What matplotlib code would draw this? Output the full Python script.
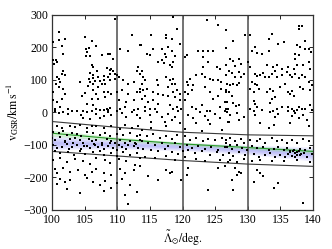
import matplotlib
matplotlib.use("Agg")
import matplotlib.pyplot as plt
import numpy as np

plt.rcParams['font.family'] = ['Liberation Serif', 'DejaVu Serif']
plt.rcParams['mathtext.fontset'] = 'stix'
plt.rcParams['xtick.direction'] = 'in'
plt.rcParams['ytick.direction'] = 'in'
plt.rcParams['xtick.top'] = True
plt.rcParams['ytick.right'] = True

# stars, (Lambda, v_GSR), grouped by panel area
top_left = [(109.6, 288), (101.1, 249), (102.0, 227), (105.1, 231), (101.0, 224), (106.1, 219),
            (101.5, 204), (106.8, 204), (100.2, 217), (105.2, 194), (105.7, 198), (105.4, 186),
            (105.2, 173), (105.8, 173), (101.7, 181), (107.6, 176), (108.6, 179), (108.9, 179),
            (113.4, 208), (112.2, 239), (110.4, 196), (111.7, 188), (100.1, 160), (100.6, 162),
            (100.8, 155), (100.3, 150), (109.4, 165), (106.1, 147), (106.3, 140), (113.2, 140),
            (108.4, 137), (108.8, 131), (109.1, 135), (109.4, 126), (109.6, 119), (109.9, 116),
            (108.9, 119), (108.6, 109), (101.7, 126), (101.5, 119), (102.0, 114), (105.8, 121),
            (106.2, 116), (113.0, 126), (113.5, 119), (100.7, 109), (101.0, 104), (101.2, 94),
            (100.6, 88), (105.6, 104), (106.3, 106), (105.8, 94), (106.6, 96), (106.2, 88),
            (107.1, 109), (107.4, 96), (107.9, 99), (107.6, 88), (108.1, 88), (104.3, 94),
            (108.9, 99), (109.6, 104), (110.2, 109), (110.9, 99), (111.7, 88), (112.5, 94),
            (101.0, 78), (101.7, 73), (102.0, 58), (106.3, 68), (106.8, 58), (107.9, 63),
            (108.6, 63), (109.1, 58), (100.2, 63), (109.9, 63), (110.7, 68), (111.7, 58),
            (113.0, 63), (113.5, 73), (101.5, 42), (107.1, 42), (108.1, 47), (106.1, 42),
            (100.2, 37), (100.7, 32), (105.3, 27), (111.4, 32), (112.5, 37), (110.2, 37),
            (101.2, 17), (100.5, 11), (106.3, 22), (106.8, 11), (107.4, 6), (107.9, 6),
            (108.4, 9), (108.6, 6), (108.9, 14), (102.5, 11), (103.0, 3), (104.8, 3),
            (110.4, 11), (111.2, 17), (112.5, 6), (113.2, 11), (105.5, 80), (107.0, 78),
            (108.0, 112), (106.9, 128), (105.0, 60), (104.6, 50)]

top_mid = [(118.6, 294), (123.7, 283), (125.4, 270), (119.2, 256), (126.7, 253), (115.2, 239),
           (117.5, 239), (117.5, 229), (118.3, 227), (119.6, 212), (113.6, 206), (115.5, 194),
           (116.8, 196), (117.8, 201), (118.3, 188), (126.7, 198), (114.5, 181), (115.0, 178),
           (117.3, 181), (117.5, 170), (118.8, 174), (120.6, 178), (120.3, 170), (122.4, 188),
           (123.1, 188), (123.9, 188), (124.7, 188), (123.1, 170), (116.3, 155), (116.8, 160),
           (117.2, 153), (118.0, 145), (118.3, 140), (118.6, 155), (123.9, 155), (125.2, 140),
           (125.7, 135), (126.6, 147), (123.1, 140), (113.7, 129), (122.1, 114), (122.9, 119),
           (123.4, 109), (124.2, 104), (124.7, 99), (125.4, 99), (125.9, 94), (126.7, 114),
           (114.0, 109), (114.2, 99), (113.8, 88), (117.5, 109), (118.0, 99), (118.6, 104),
           (118.3, 88), (117.8, 78), (118.8, 88), (120.6, 94), (121.1, 104), (120.9, 83),
           (121.6, 83), (116.0, 99), (116.3, 83), (113.5, 63), (114.0, 68), (114.5, 73),
           (114.2, 52), (113.7, 42), (115.5, 63), (116.3, 58), (117.0, 55), (117.8, 52),
           (118.6, 63), (119.2, 68), (119.6, 58), (118.8, 47), (120.3, 63), (120.9, 58),
           (121.4, 68), (120.3, 37), (123.4, 78), (124.2, 63), (124.7, 42), (125.4, 52),
           (125.9, 73), (126.7, 63), (114.7, 32), (115.5, 37), (116.3, 27), (114.2, 17),
           (115.0, 11), (115.8, 11), (118.0, 22), (118.6, 11), (119.1, 17), (119.6, 37),
           (119.7, 11), (119.3, 3), (121.4, 17), (122.1, 11), (122.9, 22), (123.7, 3),
           (124.2, 3), (125.7, 17), (126.5, 32), (127.0, 11)]

top_right = [(137.9, 266), (138.3, 266), (137.9, 256), (129.6, 239), (130.4, 237), (133.2, 225),
             (133.7, 242), (127.8, 219), (135.5, 217), (134.7, 212), (138.8, 219), (126.7, 198),
             (131.1, 201), (130.6, 188), (131.4, 184), (132.2, 181), (133.2, 188), (137.5, 206),
             (138.0, 201), (138.8, 196), (137.3, 181), (137.8, 176), (137.3, 165), (139.3, 194),
             (139.7, 186), (127.3, 165), (127.8, 157), (128.6, 163), (128.9, 150), (128.1, 143),
             (130.1, 155), (130.4, 140), (132.9, 145), (133.9, 140), (134.5, 145), (135.2, 135),
             (136.2, 140), (137.0, 135), (137.5, 145), (138.5, 147), (139.3, 155), (139.6, 135),
             (127.1, 129), (127.6, 122), (128.1, 109), (128.6, 124), (128.9, 109), (129.4, 119),
             (131.1, 119), (131.4, 112), (131.9, 116), (132.4, 122), (132.7, 109), (133.2, 109),
             (133.7, 119), (134.2, 126), (134.5, 109), (135.2, 114), (136.0, 124), (136.5, 116),
             (136.8, 109), (137.3, 119), (137.8, 106), (138.3, 114), (138.8, 109), (126.8, 88),
             (127.3, 83), (127.8, 88), (128.3, 83), (128.6, 90), (126.6, 68), (127.1, 63),
             (130.6, 94), (131.1, 88), (131.4, 83), (131.7, 71), (130.9, 63), (130.4, 73),
             (132.9, 63), (133.4, 73), (133.9, 65), (134.2, 47), (133.7, 40), (135.0, 78),
             (135.7, 88), (136.2, 63), (136.5, 58), (136.8, 65), (137.0, 52), (138.0, 78),
             (138.5, 73), (139.3, 94), (139.6, 68), (139.8, 83), (127.6, 52), (126.8, 32),
             (127.8, 30), (128.2, 20), (128.6, 24), (126.6, 11), (130.9, 34), (131.1, 27),
             (131.4, 17), (132.2, 6), (130.4, 11), (133.4, 30), (133.9, 3), (134.5, 11),
             (135.2, 17), (136.2, 17), (136.8, 11), (137.0, 3), (137.5, 6), (137.8, 17),
             (138.3, 9), (138.8, 11), (139.6, 22), (139.8, 6)]

low_left = [(100.5, 3), (101.0, -2), (101.7, 0), (102.5, -4), (103.8, 3), (104.5, -7), (105.3, 0),
            (106.1, 3), (106.8, -4), (107.9, -10), (108.6, 0), (109.1, -7), (109.9, 3), (110.7, -2),
            (111.4, -13), (112.2, 0), (113.0, -7), (113.5, -18), (104.8, -18), (105.8, -21),
            (107.4, -18), (100.7, -43), (101.5, -48), (102.8, -41), (103.5, -45), (104.3, -38),
            (105.3, -48), (106.1, -43), (106.8, -41), (107.9, -48), (109.1, -43), (110.4, -52),
            (111.2, -38), (112.2, -48), (113.2, -43), (100.2, -59), (101.0, -64), (101.7, -56),
            (102.3, -69), (103.0, -62), (103.8, -66), (104.5, -72), (105.3, -59), (106.3, -64),
            (107.4, -69), (108.1, -62), (108.9, -72), (109.9, -66), (110.9, -69), (111.9, -62),
            (113.0, -72), (100.0, -79), (100.5, -84), (101.2, -76), (102.0, -89), (102.8, -82),
            (103.5, -79), (104.3, -86), (104.8, -93), (105.6, -82), (106.1, -89), (106.8, -84),
            (107.6, -93), (108.4, -82), (109.1, -89), (109.6, -95), (110.4, -86), (111.2, -93),
            (111.9, -89), (112.7, -95), (113.5, -86), (100.2, -100), (100.7, -110), (101.5, -105),
            (102.3, -97), (103.0, -107), (103.8, -100), (104.5, -113), (105.3, -103),
            (105.8, -110), (106.6, -100), (107.1, -107), (107.9, -113), (108.6, -103),
            (109.4, -110), (110.2, -100), (110.7, -107), (111.4, -113), (112.5, -103),
            (113.2, -110), (100.5, -120), (101.2, -125), (102.5, -123), (103.3, -131),
            (104.3, -120), (105.1, -127), (106.3, -123), (107.4, -120), (107.9, -131),
            (109.1, -125), (109.9, -134), (110.9, -123), (111.9, -131), (113.0, -125),
            (100.2, -146), (101.2, -141), (102.3, -154), (103.5, -144), (104.8, -151),
            (105.8, -158), (106.8, -141), (108.1, -146), (108.9, -156), (110.2, -144),
            (111.4, -151), (112.7, -161), (113.5, -141), (100.5, -175), (101.7, -172),
            (100.7, -187), (102.8, -182), (104.0, -177), (105.1, -192), (106.1, -182),
            (106.8, -175), (107.9, -187), (109.1, -192), (110.4, -175), (111.2, -185),
            (112.5, -177), (101.2, -205), (102.0, -213), (100.7, -220), (102.8, -207),
            (105.3, -202), (106.3, -213), (107.4, -223), (108.1, -210), (109.9, -218),
            (110.7, -205), (111.9, -223), (102.3, -236), (104.3, -248), (107.9, -243),
            (109.1, -233), (111.2, -254), (111.6, -282), (113.0, -245),
            (101.9, -92), (103.2, -95), (104.9, -104), (106.4, -97), (107.7, -101),
            (108.8, -94), (110.0, -117), (111.6, -101), (112.9, -98), (102.6, -112)]

low_mid = [(114.2, 3), (115.0, -7), (116.0, 0), (116.8, -13), (117.8, -4), (118.3, -23), (118.8, -15),
           (120.9, -7), (121.6, -18), (122.6, 0), (123.4, -10), (123.9, -23), (124.9, -4),
           (125.7, -18), (126.5, 3), (127.0, -28), (115.2, -28), (117.3, -31), (119.6, -33),
           (122.1, -33), (124.2, -35), (113.7, -54), (115.2, -48), (117.5, -43), (120.3, -52),
           (122.9, -56), (126.0, -54), (113.5, -69), (114.5, -74), (115.5, -66), (116.5, -79),
           (117.5, -72), (118.3, -82), (119.1, -69), (120.3, -74), (121.1, -84), (122.1, -79),
           (123.1, -89), (123.9, -82), (124.9, -86), (126.0, -79), (126.7, -93), (113.7, -89),
           (114.7, -95), (115.8, -100), (116.8, -93), (117.8, -103), (118.8, -95), (119.6, -107),
           (120.6, -100), (121.4, -110), (122.4, -103), (123.4, -113), (124.4, -105),
           (125.4, -115), (126.5, -107), (127.2, -100), (114.0, -113), (115.2, -117),
           (116.3, -120), (117.3, -113), (118.3, -123), (119.3, -127), (120.1, -120),
           (120.9, -115), (121.9, -125), (122.9, -120), (124.2, -131), (125.2, -123),
           (126.2, -131), (114.2, -136), (115.8, -141), (117.5, -134), (118.8, -146),
           (120.3, -138), (122.1, -144), (123.4, -151), (125.7, -146), (127.0, -154),
           (117.5, -177), (118.0, -185), (118.3, -182), (120.9, -172), (120.6, -192),
           (114.7, -197), (116.3, -207), (119.8, -207), (123.9, -238), (126.5, -166),
           (113.5, -166), (125.4, -172)]

low_right = [(126.8, 0), (127.3, -7), (128.3, -2), (129.4, -13), (130.9, 3), (131.1, -7), (133.4, 0),
             (134.2, -13), (134.7, -4), (136.2, 3), (136.8, -10), (137.3, -2), (137.8, -18),
             (138.5, -7), (139.1, -23), (127.1, -28), (128.6, -23), (131.9, -33), (134.0, -38),
             (136.5, -33), (139.3, -43), (133.2, -48), (126.6, -84), (127.3, -79), (128.1, -89),
             (128.9, -82), (129.4, -95), (130.4, -86), (131.4, -89), (131.9, -82), (132.7, -95),
             (133.7, -79), (134.5, -89), (135.2, -84), (136.0, -95), (136.8, -86), (137.5, -93),
             (138.5, -82), (139.3, -89), (126.8, -105), (127.6, -113), (128.3, -100),
             (129.1, -110), (129.9, -115), (130.6, -103), (131.4, -110), (132.4, -107),
             (133.2, -115), (134.0, -113), (134.7, -105), (135.5, -117), (136.0, -110),
             (136.5, -120), (137.0, -115), (137.5, -123), (138.0, -113), (138.8, -117),
             (139.6, -110), (127.1, -125), (127.8, -134), (128.6, -123), (129.6, -131),
             (130.9, -127), (131.7, -136), (132.7, -131), (133.4, -125), (134.2, -138),
             (135.0, -131), (135.7, -136), (136.2, -127), (136.8, -134), (137.3, -138),
             (138.0, -131), (139.1, -136), (139.8, -127), (127.3, -146), (128.3, -154),
             (129.4, -144), (130.6, -151), (131.9, -146), (133.7, -148), (135.5, -151),
             (137.5, -146), (139.6, -154), (128.1, -172), (128.6, -182), (128.9, -187),
             (128.3, -192), (131.4, -177), (131.9, -187), (132.4, -197), (127.6, -207),
             (130.9, -213), (127.8, -238), (134.0, -233), (134.7, -218), (138.5, -279),
             (136.5, -122), (137.2, -126), (137.8, -120), (138.2, -128), (136.9, -118),
             (137.6, -131), (138.6, -124)]

# selection box edges and stream track, read at the knots
knot_x = [100, 110, 120, 130, 140]
upper_edge = [-28, -46, -61, -69, -72]
lower_edge = [-120, -134, -148, -159, -166]
green_mid = [-64, -82, -97, -108, -120]
green_half = [9, 6, 5, 5, 6]
blue_mid = [-93, -98, -105, -115, -128]
blue_half = [22, 15, 13, 15, 22]

field_edges = [110, 120, 130]

fig = plt.figure(figsize=(3.32, 2.49), dpi=100)
ax = fig.add_axes([0.157, 0.157, 0.786, 0.783])

kx = np.array(knot_x)
bm = np.array(blue_mid)
bh = np.array(blue_half)
# soft blue band, darker toward the track
for f in [1.0, 0.8, 0.6, 0.4, 0.2]:
    ax.fill_between(kx, bm - bh * f, bm + bh * f, color='#4a4af0', alpha=0.08, lw=0, zorder=1)
gm = np.array(green_mid)
gh = np.array(green_half)
ax.fill_between(kx, gm - gh, gm + gh, color='#70d070', alpha=0.3, lw=0, zorder=1)
ax.plot(kx, gm, color='#2a9a2a', lw=0.8, zorder=2)

for xv in field_edges:
    ax.axvline(xv, color='#5a5a5a', lw=1.2, zorder=2)

ax.plot(knot_x, upper_edge, color='#3a3a3a', lw=0.8, zorder=2)
ax.plot(knot_x, lower_edge, color='#3a3a3a', lw=0.8, zorder=2)

for grp in [top_left, top_mid, top_right, low_left, low_mid, low_right]:
    xs = [p[0] for p in grp]
    ys = [p[1] for p in grp]
    ax.plot(xs, ys, 's', color='k', ms=1.5, mew=0, zorder=3)

ax.set_xlim(100, 140)
ax.set_ylim(-300, 300)
ax.set_xticks([100, 105, 110, 115, 120, 125, 130, 135, 140])
ax.set_yticks([-300, -200, -100, 0, 100, 200, 300])
ax.tick_params(labelsize=8.5, length=3, width=0.6, pad=3)
for s in ax.spines.values():
    s.set_color('#333333')
    s.set_linewidth(0.9)

ax.set_xlabel(r'$\tilde{\Lambda}_{\odot}\mathrm{/deg.}$', fontsize=8.5, labelpad=2)
ax.set_ylabel(r'$\mathrm{v_{GSR}/km\,s^{-1}}$', fontsize=8.5, labelpad=2)

fig.savefig('out.png', dpi=100)
